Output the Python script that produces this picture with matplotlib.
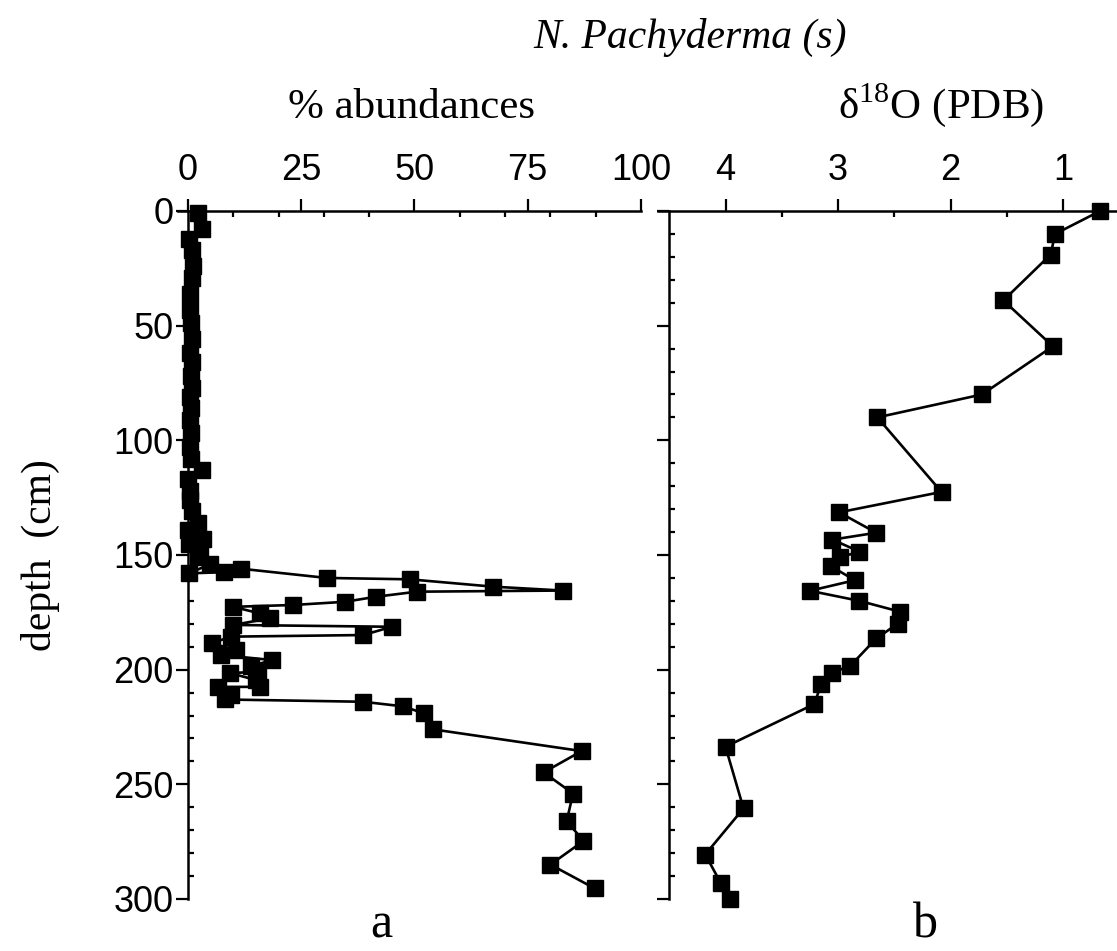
import matplotlib.pyplot as plt
from matplotlib.ticker import FixedLocator, MultipleLocator

# panel a: N. pachyderma (s) % abundance against depth (cm)
depth_a = [1, 8, 12, 17, 24, 29, 36, 43, 49, 56, 62, 66, 72, 77, 81, 86, 91, 97,
           103, 108, 113, 117, 122, 126, 131, 136, 139, 143, 145, 147, 151, 154,
           158, 157.5, 156, 160, 160.6, 163.8, 165.5, 166, 168.2, 170.4, 171.8,
           172.6, 175.5, 177.6, 180.5, 181.3, 184.9, 185.6, 188.5, 191.5, 193.6,
           195.8, 198.5, 200.9, 201.5, 204.5, 207.5, 207.5, 211, 213, 214, 216,
           219, 226, 235.5, 244.8, 254, 266, 274.7, 285, 295.4]
abund_a = [2.3, 3.0, 0.2, 0.8, 1.2, 0.8, 0.5, 0.4, 0.6, 0.8, 0.4, 0.8, 0.6, 0.8,
           0.4, 0.6, 0.4, 0.6, 0.5, 0.6, 3.0, 0.0, 0.4, 0.4, 0.8, 2.3, 0.0, 3.4,
           0.2, 2.6, 2.2, 4.9, 0.2, 8.0, 11.8, 30.6, 48.9, 67.3, 82.7, 50.5, 41.5,
           34.7, 23.2, 10.0, 15.9, 18.1, 10.0, 45.0, 38.7, 9.5, 5.2, 10.7, 7.4,
           18.5, 14.0, 15.5, 9.3, 15.0, 15.9, 6.7, 9.5, 8.2, 38.7, 47.5, 52.0,
           54.0, 86.9, 78.5, 85.0, 83.6, 87.3, 80.0, 89.8]

# panel b: d18O (PDB) against depth (cm)
depth_b = [0, 10, 19, 39, 59, 80, 90, 122.5, 131.4, 140.3, 143.3, 148.5, 151,
           155, 161, 165.6, 170, 174.7, 180, 186.4, 198.3, 201.3, 206.3, 215,
           233.6, 260.5, 280.6, 293.2, 300]
d18o_b = [0.67, 1.07, 1.11, 1.53, 1.09, 1.72, 2.65, 2.08, 2.99, 2.66, 3.05, 2.81,
          2.98, 3.06, 2.85, 3.25, 2.81, 2.45, 2.47, 2.66, 2.89, 3.05, 3.15, 3.21,
          4.00, 3.84, 4.18, 4.04, 3.96]

ticks_a = [0, 25, 50, 75, 100]
ticks_b = [4, 3, 2, 1]
ticks_depth = [0, 50, 100, 150, 200, 250, 300]

plt.rcParams['font.family'] = 'Liberation Sans'
W, H = 1117, 951
fig = plt.figure(figsize=(W / 100, H / 100), dpi=100)


def style(ax):
    ax.spines['right'].set_visible(False)
    ax.spines['bottom'].set_visible(False)
    for s in ['left', 'top']:
        ax.spines[s].set_linewidth(1.8)
    ax.xaxis.tick_top()
    ax.set_ylim(300, 0)
    ax.yaxis.set_major_locator(FixedLocator(ticks_depth))
    ax.yaxis.set_minor_locator(MultipleLocator(10))
    ax.tick_params(which='major', direction='out', length=8.5, width=1.6,
                   labelsize=26)
    ax.tick_params(which='minor', direction='in', length=4, width=1.6)
    ax.tick_params(axis='x', which='major', pad=8)
    ax.tick_params(axis='y', which='major', pad=2)


# panel a
ax1 = fig.add_axes([178 / W, 1 - 899 / H, (641 - 178) / W, (899 - 211) / H])
ax1.plot(abund_a, depth_a, color='black', lw=1.9, marker='s', ms=11,
         clip_on=False)
ax1.set_xlim(-2.2, 100)
ax1.spines['left'].set_position(('data', 0))
ax1.xaxis.set_major_locator(FixedLocator(ticks_a))
ax1.xaxis.set_minor_locator(MultipleLocator(10))
style(ax1)

# panel b
ax2 = fig.add_axes([658 / W, 1 - 899 / H, (1117 - 658) / W, (899 - 211) / H])
ax2.plot(d18o_b, depth_b, color='black', lw=1.9, marker='s', ms=11,
         clip_on=False)
ax2.set_xlim(4.6, 0.52)
ax2.spines['left'].set_position(('data', 4.5))
ax2.xaxis.set_major_locator(FixedLocator(ticks_b))
ax2.xaxis.set_minor_locator(FixedLocator([3.5, 2.5, 1.5]))
style(ax2)
ax2.tick_params(axis='y', labelleft=False)

serif = 'Liberation Serif'
plt.rcParams['mathtext.fontset'] = 'custom'
plt.rcParams['mathtext.rm'] = serif
fig.text(690 / W, 1 - 48 / H, 'N. Pachyderma (s)', family=serif, style='italic',
         size=30, ha='center', va='baseline')
fig.text(411 / W, 1 - 118 / H, '% abundances', family=serif, size=31,
         ha='center', va='baseline')
fig.text(941 / W, 1 - 118 / H, r'δ$^{\mathrm{18}}$O (PDB)', family=serif, size=31,
         ha='center', va='baseline')
fig.text(40 / W, 1 - 555 / H, 'depth  (cm)', family=serif, size=30,
         rotation=90, ha='center', va='center')
fig.text(381 / W, 1 - 949 / H, 'a', family=serif, size=36, ha='center',
         va='bottom')
fig.text(925 / W, 1 - 949 / H, 'b', family=serif, size=36, ha='center',
         va='bottom')

plt.savefig('out.png', dpi=100)
